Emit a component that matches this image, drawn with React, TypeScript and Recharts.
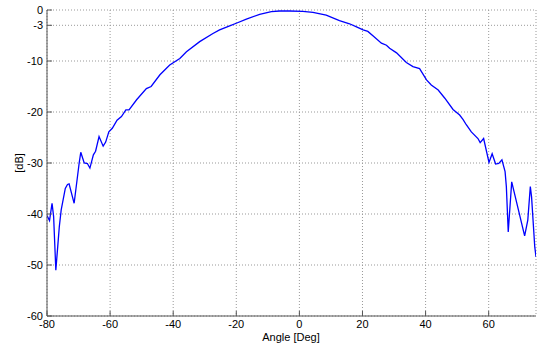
import { LineChart, Line, XAxis, YAxis, CartesianGrid, Label } from 'recharts';

const angles = [
  -80, -79.2, -78.4, -77.9, -77.2, -76.6, -76.1, -75.5, -74.2, -73.5, -73, -71.4, -69.8, -69.3, -68.2, -67.2,
  -66.4, -65.3, -64.6, -63.5, -62.2, -61.4, -60.4, -59.3, -57.8, -56.4, -55, -54, -51.6, -48.5, -47, -44.2,
  -41.1, -37.9, -35.8, -31.6, -27.4, -25.3, -22.1, -20, -16.8, -12.6, -8.9, -6.3, -3.1, 1.1, 4.3, 8.5, 12.7,
  15.9, 18.1, 20.2, 21.7, 23.4, 26, 27.6, 28.6, 30.8, 33.9, 36, 38.1, 40.3, 41.8, 44, 46.1, 48.7, 50.8, 51.9,
  52.9, 54.5, 56.6, 57.3, 58.4, 60.1, 61.1, 62.2, 63.2, 64.2, 65.2, 65.6, 66.2, 67.3, 71.4, 72.4, 73.2, 73.6,
  74.6, 75,
];

const gains = [
  -40.3, -41.3, -37.9, -40.5, -51, -46.4, -42.5, -39.2, -35, -34.2, -34.1, -37.9, -30, -27.9, -30, -30.1,
  -31, -28.4, -27.7, -24.8, -26.7, -25.9, -23.9, -23.2, -21.6, -20.9, -19.6, -19.6, -17.6, -15.4, -15.0, -12.7,
  -10.8, -9.5, -8.2, -6.2, -4.6, -3.9, -3.1, -2.6, -1.8, -0.85, -0.33, -0.2, -0.2, -0.26, -0.45, -1.0, -2.1,
  -2.7, -3.3, -3.9, -4.2, -5.1, -6.5, -6.9, -7.5, -8.4, -10.3, -11.1, -11.5, -13.7, -14.7, -15.7, -17.3, -19.5, -20.6, -21.5,
  -22.5, -23.9, -25.2, -26, -25.2, -29.9, -28.2, -30.2, -30.1, -29.4, -31.7, -34.6, -43.5, -33.7, -44.3, -41.2, -34.6, -36.7,
  -46.4, -48.4,
];

const xTicks = [-80, -60, -40, -20, 0, 20, 40, 60];
const yTicks = [-60, -50, -40, -30, -20, -10, -3, 0];

const data = angles.map((x, i) => ({ x, y: gains[i] }));

const font = { fontFamily: '"Liberation Sans", Arial, sans-serif', fontSize: 11, fill: '#000' };
const axisColor = '#555';

export default function App() {
  return (
    <div style={{ position: 'absolute', left: 0, top: 0, width: 537, height: 349, background: '#fff' }}>
      <LineChart width={537} height={349} data={data} margin={{ top: 10, right: 1, bottom: 0, left: 0 }}>
        <CartesianGrid stroke="#999" strokeDasharray="1 2" />
        <XAxis
          dataKey="x"
          type="number"
          domain={[-80, 75]}
          ticks={xTicks}
          interval={0}
          allowDataOverflow
          height={33}
          stroke={axisColor}
          tickSize={-5}
          tickMargin={9}
          tick={font}
        >
          <Label
            content={() => (
              <text x={291} y={341} textAnchor="middle" style={font}>
                Angle [Deg]
              </text>
            )}
          />
        </XAxis>
        <XAxis
          xAxisId="top"
          orientation="top"
          dataKey="x"
          type="number"
          domain={[-80, 75]}
          ticks={xTicks}
          interval={0}
          allowDataOverflow
          height={0}
          stroke={axisColor}
          tickSize={-5}
          tick={false}
        />
        <YAxis
          type="number"
          domain={[-60, 0]}
          ticks={yTicks}
          interval={0}
          allowDataOverflow
          width={47}
          stroke={axisColor}
          tickSize={-5}
          tickMargin={9}
          tick={font}
        >
          <Label
            content={() => (
              <text
                x={19}
                y={163}
                transform="rotate(-90 19 163)"
                textAnchor="middle"
                dominantBaseline="central"
                style={font}
              >
                [dB]
              </text>
            )}
          />
        </YAxis>
        <YAxis
          yAxisId="right"
          orientation="right"
          type="number"
          domain={[-60, 0]}
          ticks={yTicks}
          interval={0}
          allowDataOverflow
          width={0}
          stroke={axisColor}
          tickSize={-5}
          tick={false}
        />
        <Line
          type="linear"
          dataKey="y"
          stroke="#0000ff"
          strokeWidth={1.3}
          dot={false}
          isAnimationActive={false}
        />
      </LineChart>
    </div>
  );
}
